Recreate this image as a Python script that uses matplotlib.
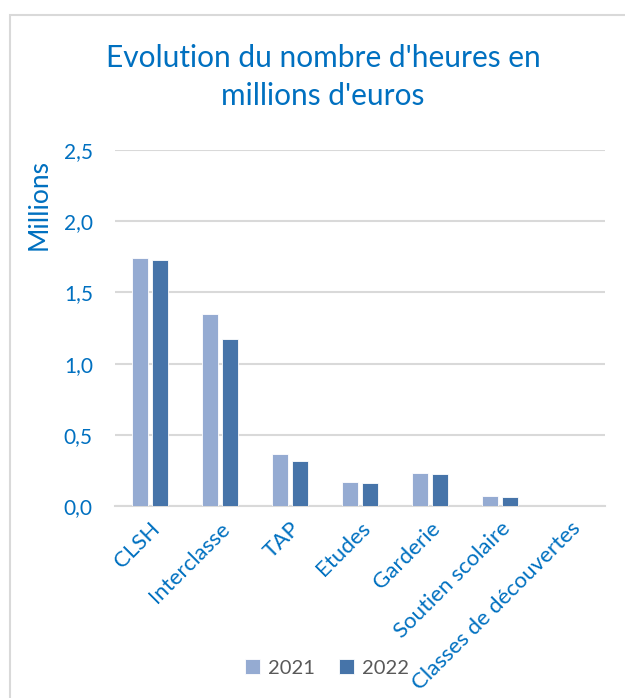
import numpy as np
import matplotlib
matplotlib.use("Agg")
import matplotlib.pyplot as plt
from matplotlib.patches import Rectangle

# data (millions)
categories = ["CLSH", "Interclasse", "TAP", "Etudes", "Garderie",
              "Soutien scolaire", "Classes de découvertes"]
values_2021 = [1.74, 1.35, 0.365, 0.169, 0.234, 0.068, 0.0]
values_2022 = [1.73, 1.17, 0.316, 0.164, 0.223, 0.061, 0.0]
yticks = [0.0, 0.5, 1.0, 1.5, 2.0, 2.5]
ytick_labels = ["0,0", "0,5", "1,0", "1,5", "2,0", "2,5"]

plt.rcParams['font.family'] = ['Lato', 'DejaVu Sans']
blue_txt = "#0070C0"
c2021 = "#95ABD2"
c2022 = "#4674A9"

fig = plt.figure(figsize=(6.25, 6.98), dpi=100)
W, H = 625, 698

# chart border (only top/left visible in the crop)
fig.patches.append(Rectangle((10 / W, -0.1), 2.0, (H - 15) / H + 0.1,
                             transform=fig.transFigure, fill=False,
                             edgecolor="#D9D9D9", linewidth=1.5))

ax = fig.add_axes([115 / W, 1 - 506 / H, 490 / W, 356 / H])
x = np.arange(len(categories))
bw = 0.225
ax.bar(x - 0.143, values_2021, bw, color=c2021, edgecolor="white", linewidth=0.6, label="2021", zorder=3)
ax.bar(x + 0.143, values_2022, bw, color=c2022, edgecolor="white", linewidth=0.6, label="2022", zorder=3)

ax.set_xlim(-0.5, len(categories) - 0.5)
ax.set_ylim(0, 2.5)
ax.set_yticks(yticks)
ax.set_yticklabels(ytick_labels)
ax.yaxis.grid(True, color="#D9D9D9", linewidth=1.5, zorder=0)
ax.set_axisbelow(True)
for s in ["top", "right", "left"]:
    ax.spines[s].set_visible(False)
ax.spines["bottom"].set_color("#D9D9D9")
ax.spines["bottom"].set_linewidth(1.5)
ax.tick_params(axis="both", length=0, colors=blue_txt)
ax.tick_params(axis="y", pad=16, labelsize=15)
ax.set_xticks(x)
ax.set_xticklabels(categories, rotation=45, ha="right", rotation_mode="anchor")
ax.tick_params(axis="x", pad=9, labelsize=16)

fig.text(323 / W, 1 - 77 / H, "Evolution du nombre d'heures en\nmillions d'euros",
         ha="center", va="center", fontsize=21.5, color=blue_txt, linespacing=1.42)
fig.text(39 / W, 1 - 204 / H, "Millions", rotation=90, ha="center", va="center",
         fontsize=19, color=blue_txt)

leg = fig.legend(loc="center", bbox_to_anchor=(327 / W, 1 - 668 / H), ncol=2,
                 frameon=False, fontsize=14.5, handlelength=0.75, handleheight=0.75,
                 columnspacing=1.2, handletextpad=0.4)
for t in leg.get_texts():
    t.set_color("#595959")

fig.savefig("out.png", dpi=100)
